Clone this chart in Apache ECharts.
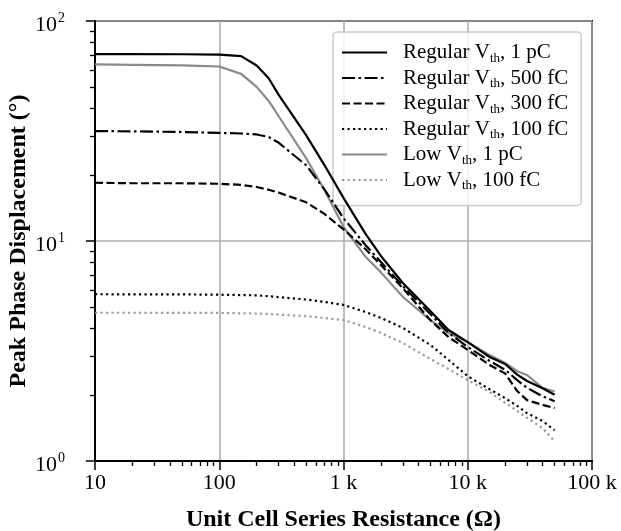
<!DOCTYPE html>
<html>
<head>
<meta charset="utf-8">
<script src="https://cdn.jsdelivr.net/npm/echarts@6/dist/echarts.min.js"></script>
<style>
html,body{margin:0;padding:0;background:#fff;}
#chart{width:621px;height:531px;}
</style>
</head>
<body>
<div id="chart"></div>
<script>
// Unit cell series resistance (ohm)
const resistance = [10, 20, 50, 100, 150, 200, 250, 300, 500, 700, 1000, 1500, 2000, 3000, 5000, 7000, 10000, 15000, 20000, 25000, 30000, 40000, 50000];
// Peak phase displacement (deg)
const regular1pC   = [70.7, 70.7, 70.6, 70.4, 69.2, 62.8, 54.9, 46.3, 30.3, 22.2, 15.7, 10.8, 8.55, 6.44, 4.81, 3.94, 3.47, 2.97, 2.76, 2.47, 2.31, 2.14, 2.00];
const regular500fC = [31.6, 31.5, 31.3, 31.0, 30.8, 30.5, 29.7, 28.0, 22.1, 17.2, 12.7, 9.6, 8.03, 6.24, 4.66, 3.82, 3.30, 2.85, 2.60, 2.33, 2.15, 1.97, 1.87];
const regular300fC = [18.4, 18.3, 18.3, 18.2, 18.0, 17.6, 17.1, 16.6, 15.0, 13.3, 11.3, 9.2, 7.78, 6.11, 4.37, 3.66, 3.20, 2.73, 2.50, 2.08, 1.89, 1.80, 1.74];
const regular100fC = [5.73, 5.72, 5.72, 5.70, 5.68, 5.66, 5.61, 5.56, 5.42, 5.29, 5.12, 4.76, 4.47, 4.03, 3.37, 2.88, 2.43, 2.12, 1.93, 1.78, 1.65, 1.52, 1.38];
const low1pC       = [63.5, 63.2, 62.8, 62.1, 57.5, 50.2, 43.3, 37.0, 23.8, 17.1, 11.6, 8.5, 7.2, 5.58, 4.37, 3.82, 3.47, 3.03, 2.79, 2.56, 2.46, 2.15, 2.07];
const low100fC     = [4.72, 4.72, 4.71, 4.71, 4.69, 4.68, 4.66, 4.63, 4.55, 4.47, 4.37, 4.07, 3.82, 3.44, 2.91, 2.62, 2.33, 2.06, 1.84, 1.69, 1.57, 1.41, 1.23];

const seriesNames = ['Regular Vth, 1 pC', 'Regular Vth, 500 fC', 'Regular Vth, 300 fC', 'Regular Vth, 100 fC', 'Low Vth, 1 pC', 'Low Vth, 100 fC'];
const xTickValues = [10, 100, 1000, 10000, 100000];
const xTickLabels = ['10', '100', '1 k', '10 k', '100 k'];
const yTickValues = [1, 10, 100];
const yTickBase = '10';
const yTickExponents = ['0', '1', '2'];
const xTitle = 'Unit Cell Series Resistance (\u03A9)';
const yTitle = 'Peak Phase Displacement (\u00B0)';

const FONT = 'Liberation Serif';
const GRID_COLOR = '#b0b0b0';

// minor tick positions in log10 space (used by helper value axes)
function minorTicksLog(loExp, hiExp) {
  const out = [];
  for (let e = loExp; e < hiExp; e++) {
    for (let k = 2; k <= 9; k++) out.push(e + Math.log10(k));
  }
  return out;
}

function pairs(vals) {
  return resistance.map((r, i) => [r, vals[i]]);
}

const styles = [
  { color: '#000000', type: 'solid' },
  { color: '#000000', type: [13, 3.5, 2.5, 3.5] },
  { color: '#000000', type: [8, 3.5] },
  { color: '#000000', type: [2.2, 3.3] },
  { color: '#8a8a8a', type: 'solid' },
  { color: '#999999', type: [2.2, 3.3] }
];
const dataSets = [regular1pC, regular500fC, regular300fC, regular100fC, low1pC, low100fC];

const chart = echarts.init(document.getElementById('chart'), null, { renderer: 'canvas' });

const option = {
  animation: false,
  backgroundColor: '#ffffff',
  grid: {
    left: 95, right: 29, top: 21, bottom: 70,
    containLabel: false,
    outerBoundsMode: 'none',
    show: true, borderColor: '#000', borderWidth: 2, backgroundColor: 'transparent'
  },
  legend: {
    left: 333, top: 32,
    orient: 'vertical',
    itemWidth: 45, itemHeight: 14, itemGap: 2.5,
    padding: [10, 13, 13, 8],
    backgroundColor: 'rgba(255,255,255,0.8)',
    borderColor: '#cccccc', borderWidth: 1.5, borderRadius: 4,
    itemStyle: { opacity: 0 },
    data: seriesNames,
    formatter: function (name) {
      const parts = name.split('Vth');
      return '{g| }{n|' + parts[0] + 'V}{s|th}{n|' + parts[1] + '}';
    },
    textStyle: {
      rich: {
        g: { width: 11, fontSize: 10 },
        n: { fontFamily: FONT, fontSize: 21, color: '#000' },
        s: { fontFamily: FONT, fontSize: 13, color: '#000', padding: [12, 0, 0, 0] }
      }
    }
  },
  xAxis: [
    {
      type: 'log', logBase: 10, min: 10, max: 100000,
      name: xTitle, nameLocation: 'middle', nameGap: 47, nameMoveOverlap: false,
      nameTextStyle: { fontFamily: FONT, fontSize: 24, fontWeight: 'bold', color: '#000' },
      axisLine: { show: true, lineStyle: { color: '#000', width: 2 } },
      axisTick: { show: true, inside: false, length: 9, lineStyle: { color: '#000', width: 1.5 } },
      axisLabel: {
        fontFamily: FONT, fontSize: 22, color: '#000', margin: 11,
        formatter: function (v) {
          const i = xTickValues.findIndex(t => Math.abs(Math.log10(t) - Math.log10(v)) < 1e-6);
          return i >= 0 ? xTickLabels[i] : '';
        }
      },
      splitLine: { show: true, lineStyle: { color: GRID_COLOR, width: 1.6 } }
    },
    {
      type: 'value', min: 1, max: 5, position: 'bottom',
      axisLine: { show: false },
      axisLabel: { show: false },
      splitLine: { show: false },
      axisTick: { show: true, inside: false, length: 5, customValues: minorTicksLog(1, 5), lineStyle: { color: '#000', width: 1.3 } }
    }
  ],
  yAxis: [
    {
      type: 'log', logBase: 10, min: 1, max: 100,
      name: yTitle, nameLocation: 'middle', nameGap: 64, nameMoveOverlap: false,
      nameTextStyle: { fontFamily: FONT, fontSize: 24, fontWeight: 'bold', color: '#000' },
      axisLine: { show: true, lineStyle: { color: '#000', width: 2 } },
      axisTick: { show: true, inside: false, length: 9, lineStyle: { color: '#000', width: 1.5 } },
      axisLabel: {
        margin: 30,
        formatter: function (v) {
          const i = yTickValues.findIndex(t => Math.abs(Math.log10(t) - Math.log10(v)) < 1e-6);
          return i >= 0 ? '{b|' + yTickBase + '}{p|' + yTickExponents[i] + '}' : '';
        },
        rich: {
          b: { fontFamily: FONT, fontSize: 22, color: '#000', padding: [8, 0, 0, 0] },
          p: { fontFamily: FONT, fontSize: 14, color: '#000', padding: [0, 0, 6, 1] }
        }
      },
      splitLine: { show: true, lineStyle: { color: GRID_COLOR, width: 1.6 } }
    },
    {
      type: 'value', min: 0, max: 2, position: 'left',
      axisLine: { show: false },
      axisLabel: { show: false },
      splitLine: { show: false },
      axisTick: { show: true, inside: false, length: 5, customValues: minorTicksLog(0, 2), lineStyle: { color: '#000', width: 1.3 } }
    }
  ],
  series: seriesNames.map((name, i) => ({
    name: name,
    type: 'line',
    xAxisIndex: 0,
    yAxisIndex: 0,
    data: pairs(dataSets[i]),
    showSymbol: false,
    symbol: 'none',
    smooth: false,
    lineStyle: { color: styles[i].color, width: 2.2, type: styles[i].type },
    itemStyle: { color: styles[i].color },
    z: 10 - i
  }))
};

chart.setOption(option);
</script>
</body>
</html>
